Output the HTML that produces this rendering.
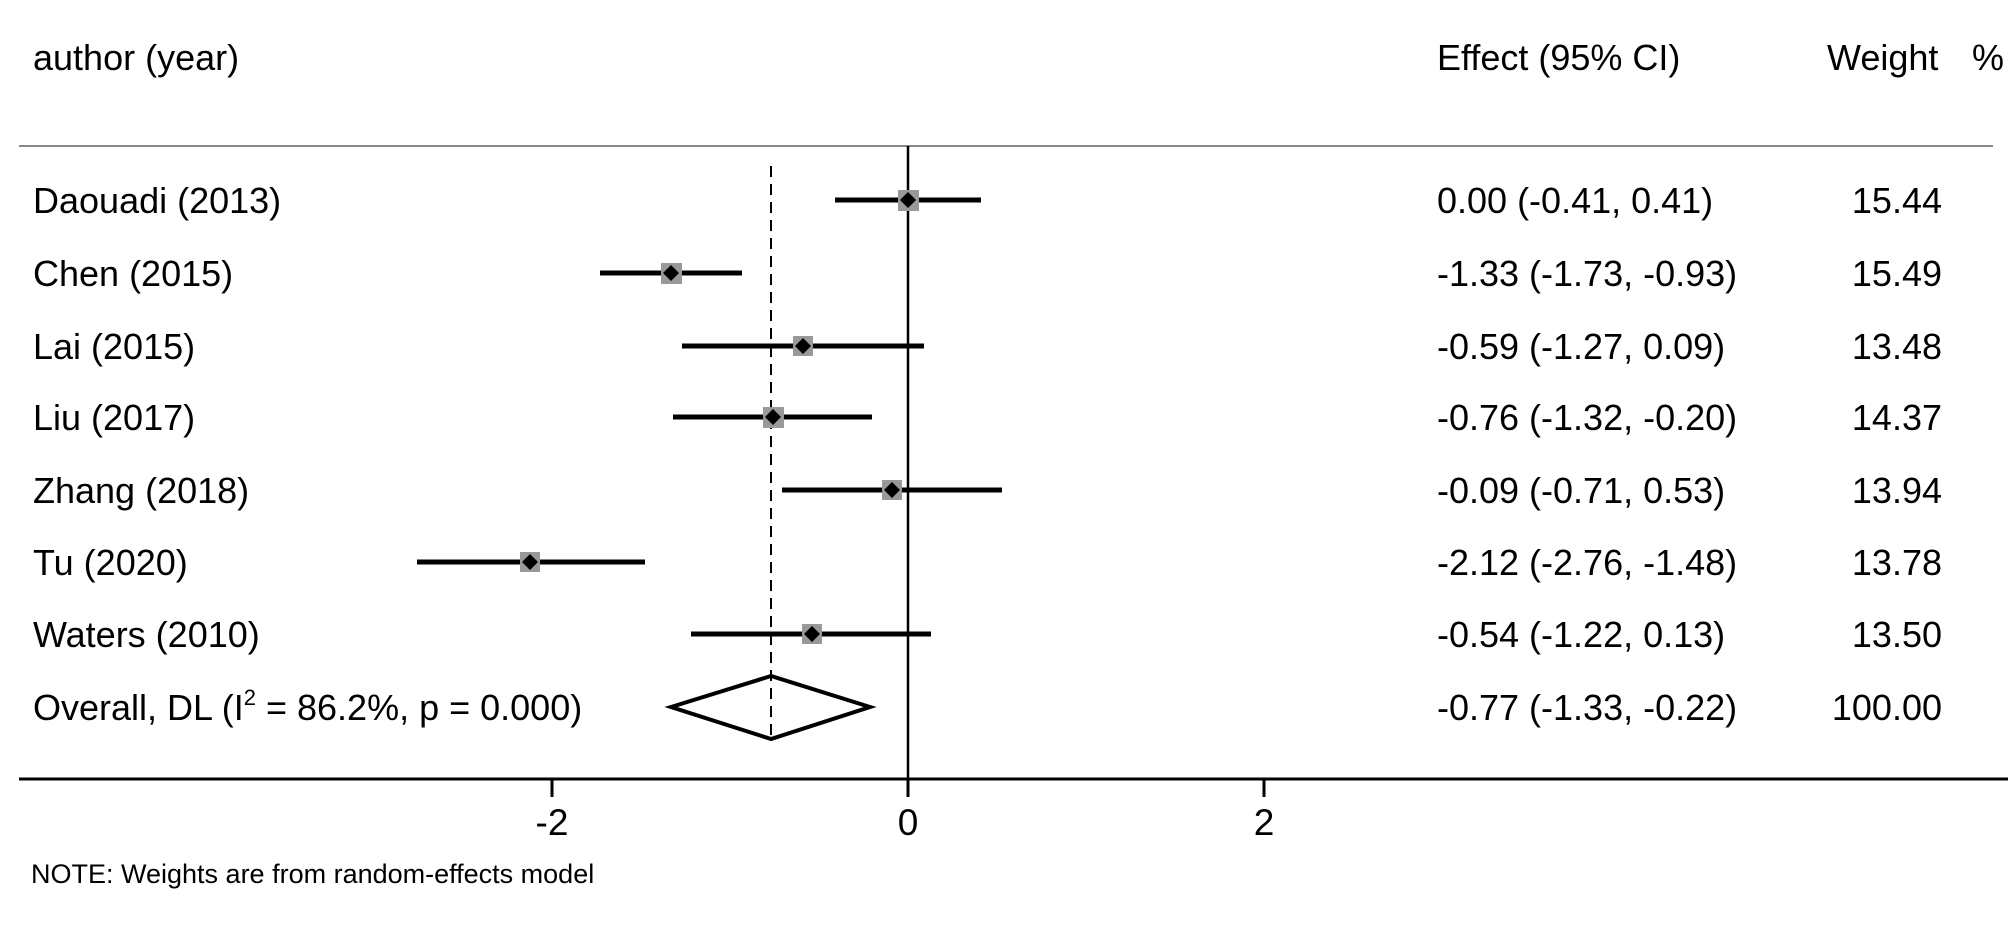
<!DOCTYPE html>
<html><head><meta charset="utf-8"><style>html,body{margin:0;padding:0;background:#fff}svg{display:block}</style></head>
<body>
<svg width="2008" height="925" viewBox="0 0 2008 925" xmlns="http://www.w3.org/2000/svg" font-family="Liberation Sans, Arial, sans-serif" fill="#000">
<line x1="19" y1="146" x2="1993" y2="146" stroke="#888" stroke-width="2"/>
<line x1="19" y1="779" x2="2008" y2="779" stroke="#000" stroke-width="3"/>
<line x1="908" y1="146" x2="908" y2="779" stroke="#000" stroke-width="2.5"/>
<line x1="771" y1="166" x2="771" y2="740" stroke="#000" stroke-width="2" stroke-dasharray="11,7"/>
<g stroke="#000" stroke-width="3">
<line x1="552" y1="779" x2="552" y2="797"/><line x1="908" y1="779" x2="908" y2="797"/><line x1="1264" y1="779" x2="1264" y2="797"/>
</g>
<g font-size="37" text-anchor="middle">
<text x="552" y="835">-2</text><text x="908" y="835">0</text><text x="1264" y="835">2</text>
</g>
<g font-size="36">
<text x="33" y="70">author (year)</text>
<text x="1437" y="70">Effect (95% CI)</text>
<text x="1827" y="70">Weight</text><text x="1972" y="70">%</text>
</g>
<g stroke="#000" stroke-width="5">
<line x1="835" y1="200" x2="981" y2="200"/>
<line x1="600" y1="273" x2="742" y2="273"/>
<line x1="682" y1="346" x2="924" y2="346"/>
<line x1="673" y1="417" x2="872" y2="417"/>
<line x1="782" y1="490" x2="1002" y2="490"/>
<line x1="417" y1="562" x2="645" y2="562"/>
<line x1="691" y1="634" x2="931" y2="634"/>
</g>
<g fill="#999">
<rect x="898" y="190" width="21" height="21"/>
<rect x="661" y="263" width="21" height="21"/>
<rect x="793" y="336" width="20" height="20"/>
<rect x="763" y="407" width="21" height="21"/>
<rect x="882" y="480" width="20" height="20"/>
<rect x="520" y="552" width="20" height="20"/>
<rect x="802" y="624" width="20" height="20"/>
</g>
<g fill="#000">
<polygon points="908,192 916,200 908,208 900,200"/>
<polygon points="671,265 679,273 671,281 663,273"/>
<polygon points="803,338 811,346 803,354 795,346"/>
<polygon points="773,409 781,417 773,425 765,417"/>
<polygon points="892,482 900,490 892,498 884,490"/>
<polygon points="530,554 538,562 530,570 522,562"/>
<polygon points="812,626 820,634 812,642 804,634"/>
</g>
<polygon points="671,707 771,676 870,707 771,739" fill="none" stroke="#000" stroke-width="4"/>
<g font-size="36">
<text x="33" y="213">Daouadi (2013)</text>
<text x="33" y="286">Chen (2015)</text>
<text x="33" y="359">Lai (2015)</text>
<text x="33" y="430">Liu (2017)</text>
<text x="33" y="503">Zhang (2018)</text>
<text x="33" y="575">Tu (2020)</text>
<text x="33" y="647">Waters (2010)</text>
<text x="33" y="720">Overall, DL (I<tspan font-size="22" dy="-15">2</tspan><tspan dy="15"> = 86.2%, p = 0.000)</tspan></text>
</g>
<g font-size="36">
<text x="1437" y="213">0.00 (-0.41, 0.41)</text>
<text x="1437" y="286">-1.33 (-1.73, -0.93)</text>
<text x="1437" y="359">-0.59 (-1.27, 0.09)</text>
<text x="1437" y="430">-0.76 (-1.32, -0.20)</text>
<text x="1437" y="503">-0.09 (-0.71, 0.53)</text>
<text x="1437" y="575">-2.12 (-2.76, -1.48)</text>
<text x="1437" y="647">-0.54 (-1.22, 0.13)</text>
<text x="1437" y="720">-0.77 (-1.33, -0.22)</text>
</g>
<g font-size="36" text-anchor="end">
<text x="1942" y="213">15.44</text>
<text x="1942" y="286">15.49</text>
<text x="1942" y="359">13.48</text>
<text x="1942" y="430">14.37</text>
<text x="1942" y="503">13.94</text>
<text x="1942" y="575">13.78</text>
<text x="1942" y="647">13.50</text>
<text x="1942" y="720">100.00</text>
</g>
<text x="31" y="883" font-size="27">NOTE: Weights are from random-effects model</text>
</svg>
</body></html>
